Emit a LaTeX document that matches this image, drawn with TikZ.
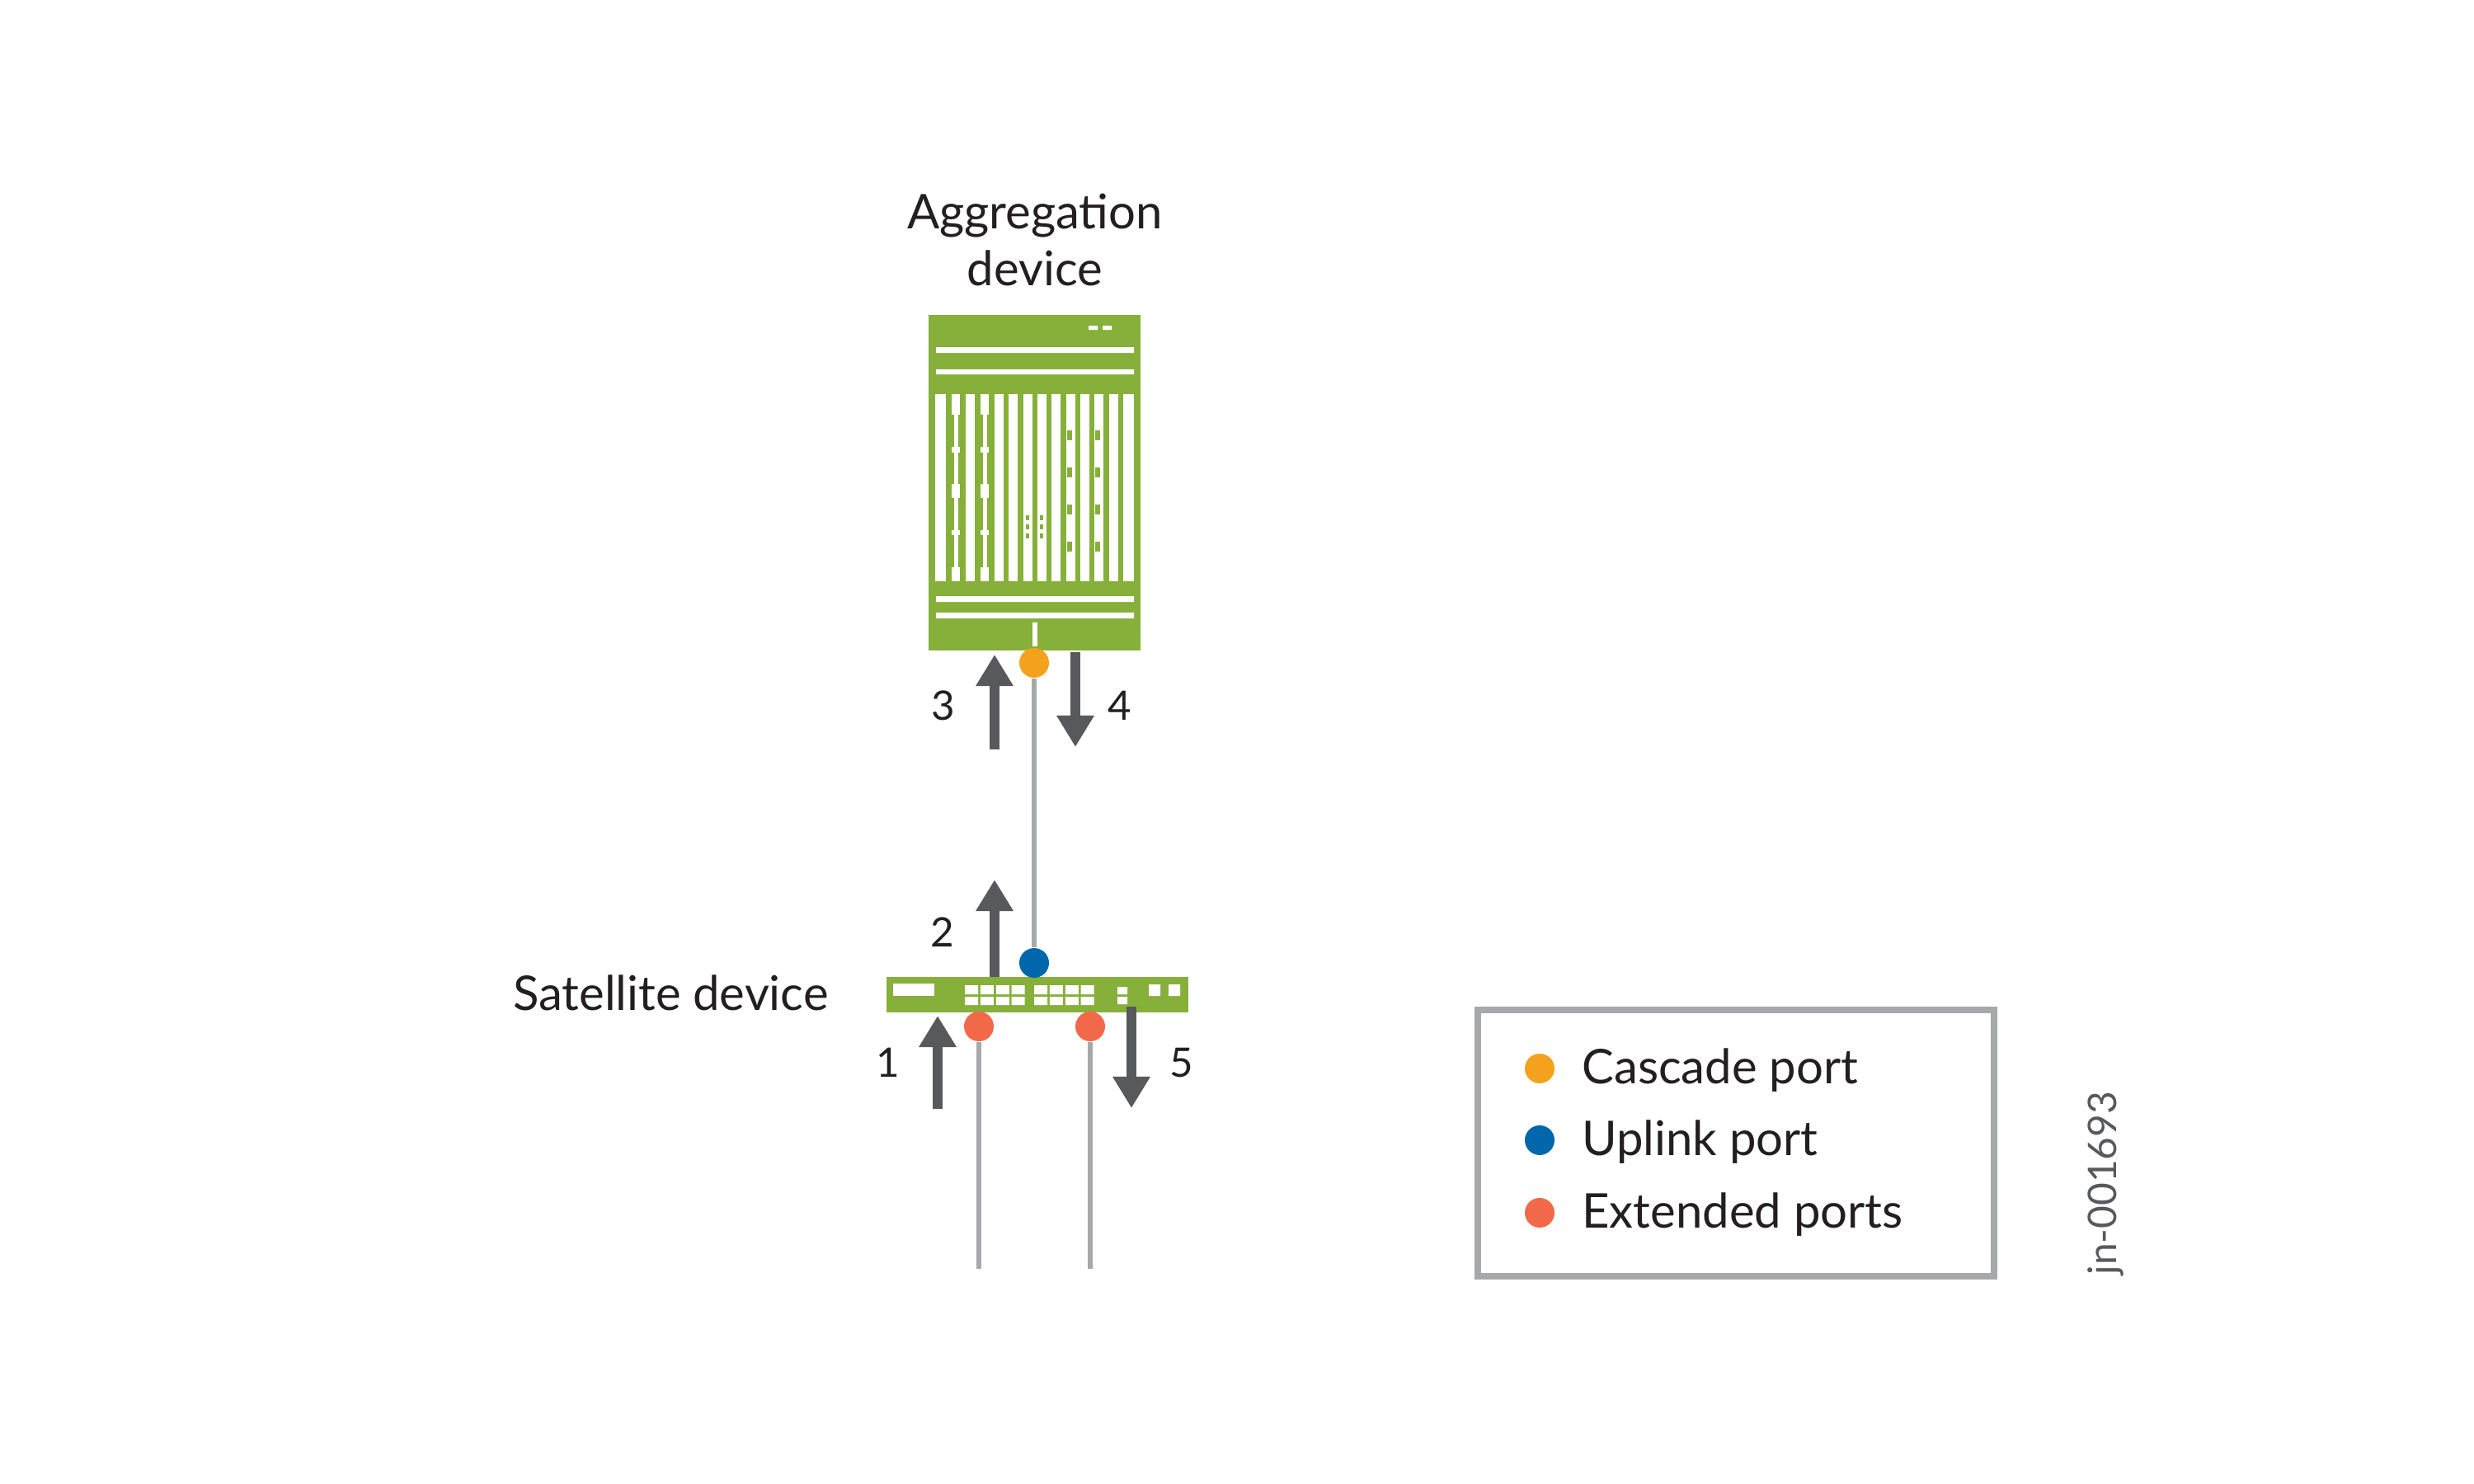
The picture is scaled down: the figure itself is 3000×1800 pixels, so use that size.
\documentclass[tikz,border=0pt]{standalone}
\usepackage{fontspec}
\setmainfont{Lato}
\usetikzlibrary{arrows.meta}
\definecolor{jgreen}{HTML}{86B03A}
\definecolor{jorange}{HTML}{F4A11D}
\definecolor{jblue}{HTML}{0067AC}
\definecolor{jred}{HTML}{F2694A}
\definecolor{jdark}{HTML}{58595B}
\definecolor{jcable}{HTML}{A7A8AA}
\definecolor{jtext}{HTML}{231F20}
\begin{document}
\begin{tikzpicture}[x=0.01cm,y=-0.01cm,
  port/.style={circle,inner sep=0pt,minimum size=0.36cm},
  cable/.style={jcable,line width=1.7pt},
  flow/.style={jdark,line width=3.4pt,-{Triangle[width=0.43cm,length=0.38cm]}},
  num/.style={font=\fontsize{14}{16}\selectfont,text=jtext},
  lbl/.style={font=\fontsize{16.5}{19.6}\selectfont,text=jtext},
  wh/.style={fill=white}]
\useasboundingbox (0,0) rectangle (3000,1800);
% aggregation device
\fill[jgreen] (1126,382) rectangle (1383,789);
\node[draw=none,inner sep=0pt,minimum width=2.57cm,minimum height=4.07cm] (agg) at (1254.5,585.5) {};
\fill[wh] (1320,395) rectangle (1331,400) (1337,395) rectangle (1348,400);
\fill[wh] (1135,421) rectangle (1375,428) (1135,448) rectangle (1375,454);
\fill[wh] (1135,723) rectangle (1375,730) (1135,743) rectangle (1375,750);
\fill[wh] (1252,755) rectangle (1258,784);
\foreach \a/\b in {1134/1147,1171/1182,1206/1217,1223/1234,1241/1252,1258/1269,1275/1286,1293/1304,1310/1321,1327/1338,1345/1356,1362/1375}
  \fill[wh] (\a,478) rectangle (\b,705);
\foreach \a in {1154,1189}{
  \fill[wh] (\a+3,478) rectangle (\a+8,705);
  \fill[wh] (\a,478) rectangle (\a+10,503);
  \fill[wh] (\a,542) rectangle (\a+10,549);
  \fill[wh] (\a,587) rectangle (\a+10,604);
  \fill[wh] (\a,643) rectangle (\a+10,649);
  \fill[wh] (\a,688) rectangle (\a+10,705);
}
\foreach \a in {1294,1328}
  \foreach \y in {522,567,612,657}
    \fill[jgreen] (\a,\y) rectangle (\a+6,\y+12);
\foreach \a in {1244,1261}
  \foreach \y in {625,636,647}
    \fill[jgreen] (\a,\y) rectangle (\a+4,\y+6);
\node[lbl,align=center] (aggl) at (1255,291) {Aggregation\\device};
% satellite device
\fill[jgreen] (1075,1185) rectangle (1441,1228);
\node[inner sep=0pt,minimum width=3.66cm,minimum height=0.43cm] (sat) at (1258,1206.5) {};
\fill[wh] (1083,1193) rectangle (1133,1208);
\foreach \s in {1170,1254}
  \foreach \i in {0,1,2,3}
    \fill[wh] (\s+\i*18.9,1195) rectangle (\s+\i*18.9+16,1206)
              (\s+\i*18.9,1209) rectangle (\s+\i*18.9+16,1219);
\fill[wh] (1355,1197) rectangle (1367,1206) (1355,1209) rectangle (1367,1218);
\fill[wh] (1393,1194) rectangle (1407,1208) (1417,1194) rectangle (1431,1208);
\node[lbl,anchor=east] (satl) at (1017,1204) {Satellite device};
% ports and cables
\node[port,fill=jorange] (casc) at (1254,804) {};
\node[port,fill=jblue] (upl) at (1254,1168) {};
\node[port,fill=jred] (ext1) at (1187,1245) {};
\node[port,fill=jred] (ext2) at (1322,1245) {};
\coordinate (e1end) at (1187,1539);
\coordinate (e2end) at (1322,1539);
\draw[cable] (casc) -- (upl);
\draw[cable] (ext1) -- (e1end);
\draw[cable] (ext2) -- (e2end);
% flow arrows
\coordinate (a3s) at (1206,909); \coordinate (a3e) at (1206,794);
\coordinate (a4s) at (1304,791); \coordinate (a4e) at (1304,906);
\coordinate (a2s) at (1206,1185); \coordinate (a2e) at (1206,1067);
\coordinate (a1s) at (1137,1345); \coordinate (a1e) at (1137,1232);
\coordinate (a5s) at (1372,1221); \coordinate (a5e) at (1372,1344);
\draw[flow] (a3s) -- (a3e);
\draw[flow] (a4s) -- (a4e);
\draw[flow] (a2s) -- (a2e);
\draw[flow] (a1s) -- (a1e);
\draw[flow] (a5s) -- (a5e);
\node[num] (n3) at (1144,856) {3};
\node[num] (n4) at (1358,856) {4};
\node[num] (n2) at (1143,1131) {2};
\node[num] (n1) at (1077,1289) {1};
\node[num] (n5) at (1433,1289) {5};
% legend
\draw[jcable,line width=2.3pt] (1792,1225) rectangle (2418,1548);
\node[port,fill=jorange] (lg1) at (1867,1296) {};
\node[port,fill=jblue] (lg2) at (1867,1383) {};
\node[port,fill=jred] (lg3) at (1867,1471) {};
\node[lbl,anchor=west] (lt1) at (1906,1298) {Cascade port};
\node[lbl,anchor=west] (lt2) at (1906,1385) {Uplink port};
\node[lbl,anchor=west] (lt3) at (1906,1473) {Extended ports};
\node[rotate=90,font=\fontsize{13.6}{15}\selectfont,text=jdark] (id) at (2553,1435) {jn-001693};
\end{tikzpicture}
\end{document}
